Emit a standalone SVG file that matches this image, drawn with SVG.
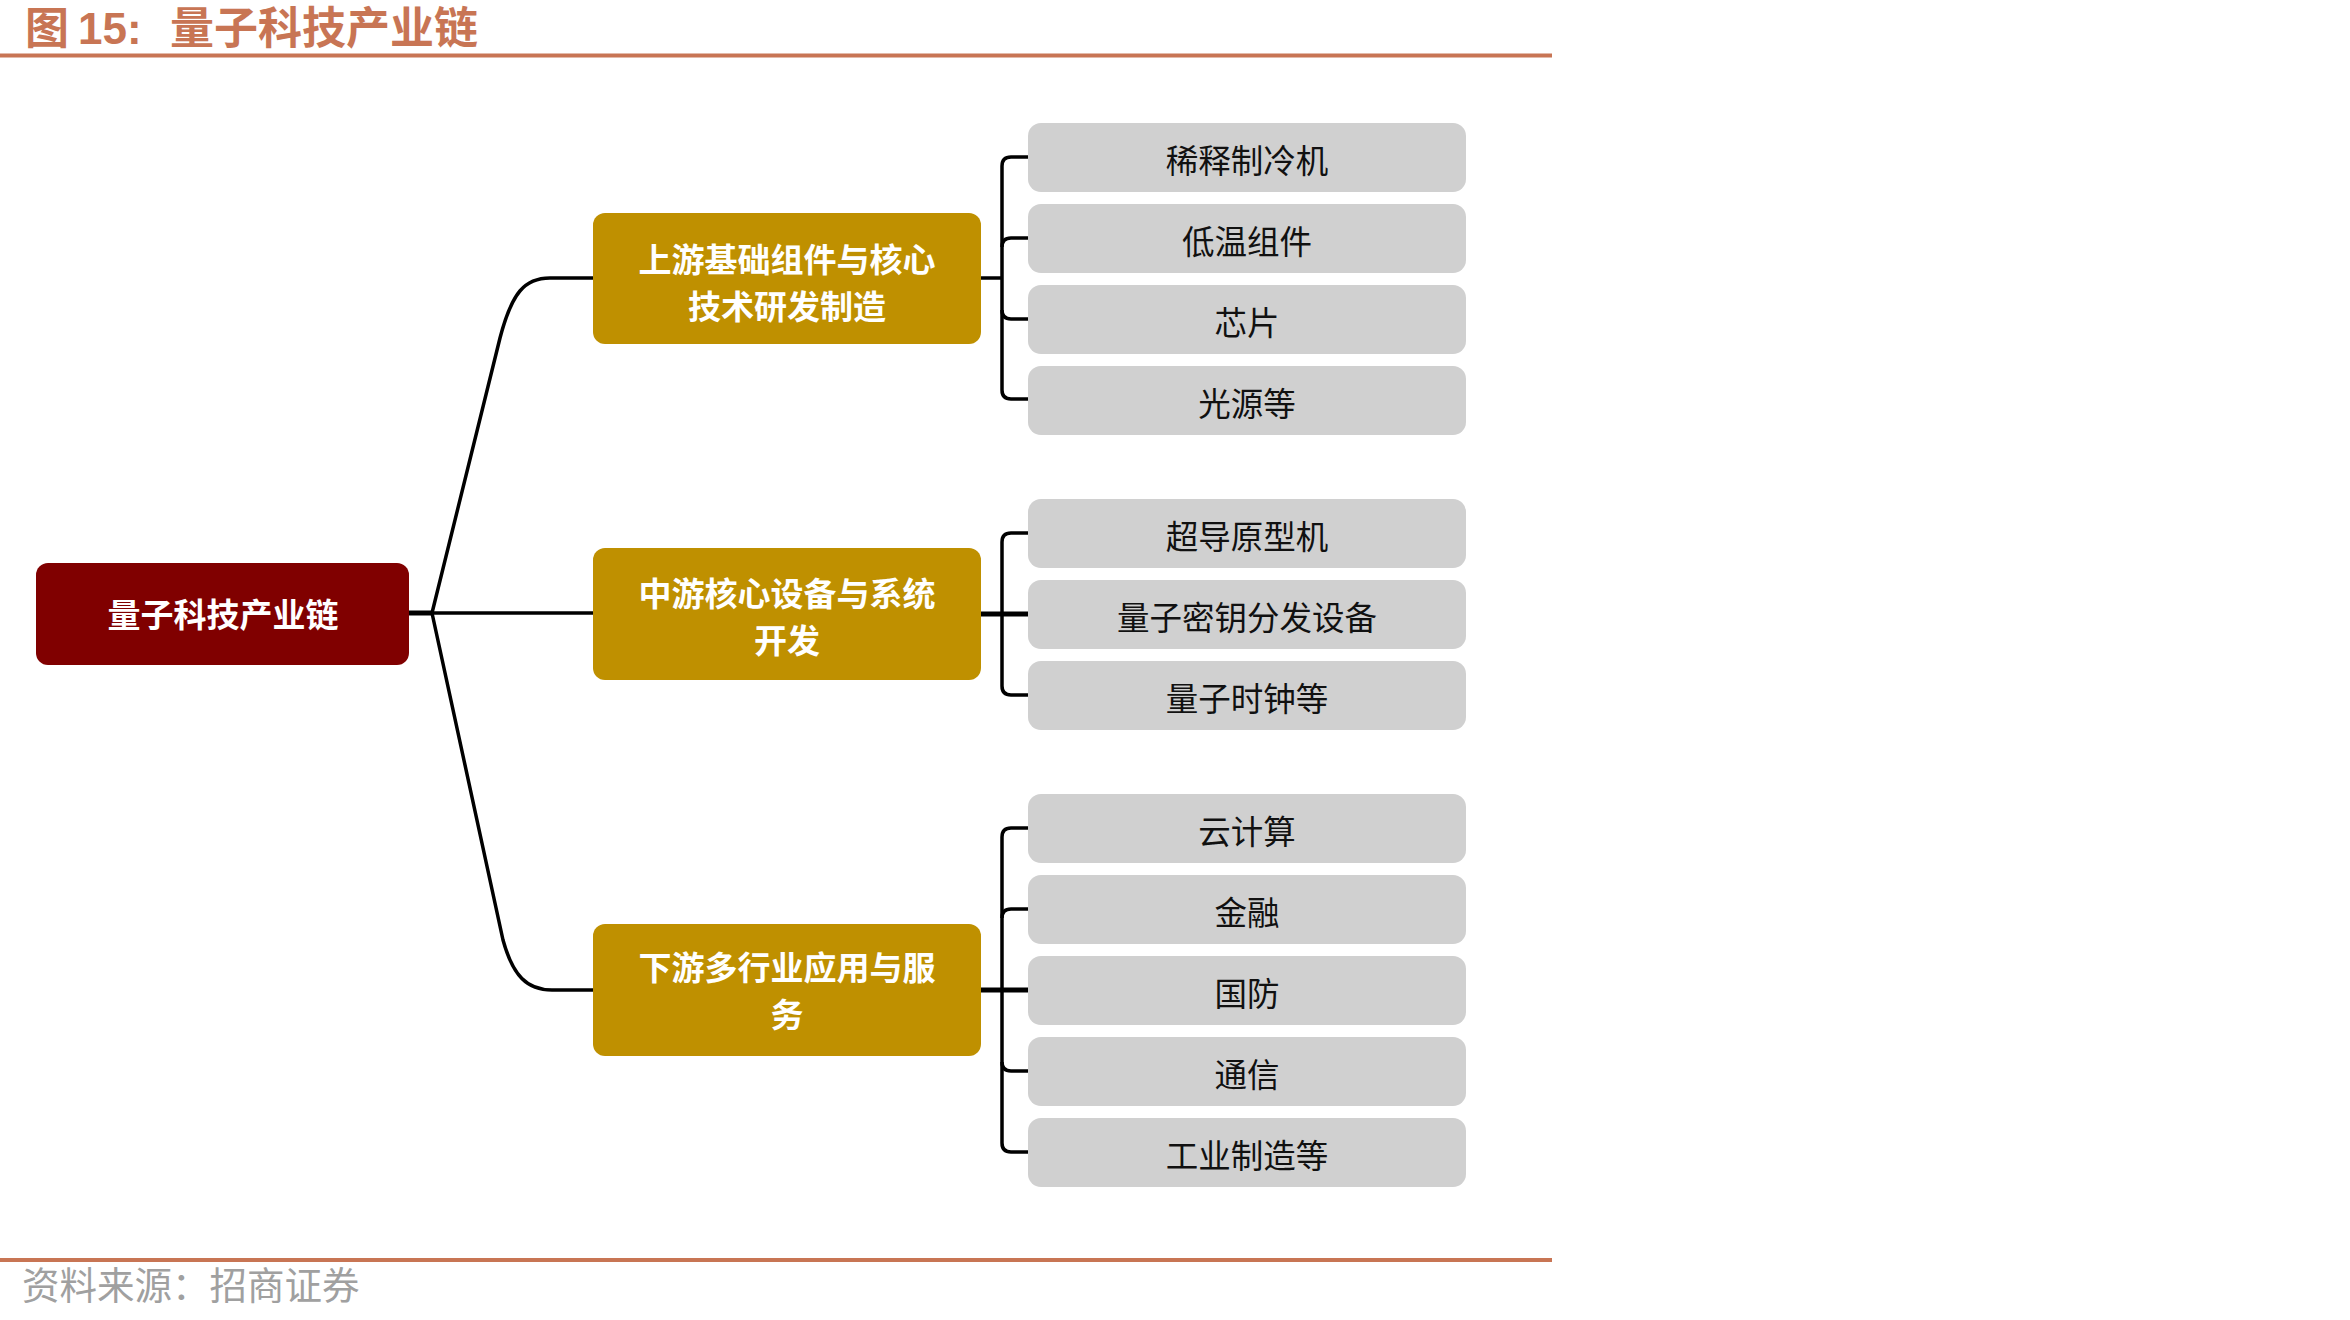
<svg xmlns="http://www.w3.org/2000/svg" width="2350" height="1320" viewBox="0 0 2350 1320">
<style>
.cjk{font-family:"Noto Sans CJK SC","Noto Sans",sans-serif;}
.title{fill:#C87554;font-weight:bold;font-size:44px;}
.rule{stroke:#C87554;stroke-width:4;}
.root{fill:#800000;}
.mid{fill:#BF9000;}
.leaf{fill:#D0D0D0;}
.wt{fill:#FFFFFF;font-weight:bold;font-size:33px;text-anchor:middle;dominant-baseline:central;}
.bt{fill:#111111;font-size:32.5px;text-anchor:middle;dominant-baseline:central;}
.con{fill:none;stroke:#000000;stroke-width:3.5;stroke-linejoin:round;}
.thick{fill:none;stroke:#000000;stroke-width:5;}
.src{fill:#A0A0A0;font-size:37.5px;}
</style>
<rect x="0" y="0" width="2350" height="1320" fill="#FFFFFF"/>
<g id="header">
<text class="cjk title" x="25" y="44" font-size="41">图</text>
<text class="title" x="78" y="44" font-family="Liberation Sans, Arial, sans-serif" font-size="45">15:</text>
<text class="cjk title" x="170" y="44">量子科技产业链</text>
<line class="rule" x1="0" y1="55.5" x2="1552" y2="55.5"/>
</g>
<g id="connectors">
<line class="thick" x1="409" y1="613" x2="432" y2="613"/>
<line class="con" x1="432" y1="613" x2="593" y2="613"/>
<path class="con" d="M432,613 L500,338 C512,292 525,278 550,278 L593,278"/>
<path class="con" d="M432,613 L503,940 C513,976 527,990 552,990 L593,990"/>
<line class="con" x1="981" y1="278" x2="1002" y2="278"/>
<path class="con" d="M1028,157 L1011,157 Q1002,157 1002,166 L1002,390 Q1002,399 1011,399 L1028,399"/>
<path class="con" d="M1028,238 L1011,238 Q1002,238 1002,247"/>
<path class="con" d="M1028,319 L1011,319 Q1002,319 1002,310"/>
<line class="thick" x1="981" y1="614" x2="1028" y2="614"/>
<path class="con" d="M1028,533 L1011,533 Q1002,533 1002,542 L1002,686 Q1002,695 1011,695 L1028,695"/>
<line class="thick" x1="981" y1="990" x2="1028" y2="990"/>
<path class="con" d="M1028,828 L1011,828 Q1002,828 1002,837 L1002,1143 Q1002,1152 1011,1152 L1028,1152"/>
<path class="con" d="M1028,909 L1011,909 Q1002,909 1002,918"/>
<path class="con" d="M1028,1071 L1011,1071 Q1002,1071 1002,1062"/>
</g>
<g id="root">
<rect class="root" x="36" y="563" width="373" height="102" rx="12"/>
<text class="cjk wt" x="223" y="613">量子科技产业链</text>
</g>
<g id="upstream">
<rect class="mid" x="593" y="213" width="388" height="131" rx="12"/>
<text class="cjk wt" x="787" y="258">上游基础组件与核心</text>
<text class="cjk wt" x="787" y="305">技术研发制造</text>
</g>
<g id="midstream">
<rect class="mid" x="593" y="548" width="388" height="132" rx="12"/>
<text class="cjk wt" x="787" y="592">中游核心设备与系统</text>
<text class="cjk wt" x="787" y="639">开发</text>
</g>
<g id="downstream">
<rect class="mid" x="593" y="924" width="388" height="132" rx="12"/>
<text class="cjk wt" x="787" y="966">下游多行业应用与服</text>
<text class="cjk wt" x="787" y="1013">务</text>
</g>
<g id="leaf-u1"><rect class="leaf" x="1028" y="123" width="438" height="69" rx="13"/><text class="cjk bt" x="1247" y="158">稀释制冷机</text></g>
<g id="leaf-u2"><rect class="leaf" x="1028" y="204" width="438" height="69" rx="13"/><text class="cjk bt" x="1247" y="239">低温组件</text></g>
<g id="leaf-u3"><rect class="leaf" x="1028" y="285" width="438" height="69" rx="13"/><text class="cjk bt" x="1247" y="320">芯片</text></g>
<g id="leaf-u4"><rect class="leaf" x="1028" y="366" width="438" height="69" rx="13"/><text class="cjk bt" x="1247" y="401">光源等</text></g>
<g id="leaf-m1"><rect class="leaf" x="1028" y="499" width="438" height="69" rx="13"/><text class="cjk bt" x="1247" y="534">超导原型机</text></g>
<g id="leaf-m2"><rect class="leaf" x="1028" y="580" width="438" height="69" rx="13"/><text class="cjk bt" x="1247" y="615">量子密钥分发设备</text></g>
<g id="leaf-m3"><rect class="leaf" x="1028" y="661" width="438" height="69" rx="13"/><text class="cjk bt" x="1247" y="696">量子时钟等</text></g>
<g id="leaf-d1"><rect class="leaf" x="1028" y="794" width="438" height="69" rx="13"/><text class="cjk bt" x="1247" y="829">云计算</text></g>
<g id="leaf-d2"><rect class="leaf" x="1028" y="875" width="438" height="69" rx="13"/><text class="cjk bt" x="1247" y="910">金融</text></g>
<g id="leaf-d3"><rect class="leaf" x="1028" y="956" width="438" height="69" rx="13"/><text class="cjk bt" x="1247" y="991">国防</text></g>
<g id="leaf-d4"><rect class="leaf" x="1028" y="1037" width="438" height="69" rx="13"/><text class="cjk bt" x="1247" y="1072">通信</text></g>
<g id="leaf-d5"><rect class="leaf" x="1028" y="1118" width="438" height="69" rx="13"/><text class="cjk bt" x="1247" y="1153">工业制造等</text></g>
<g id="footer">
<line class="rule" x1="0" y1="1260" x2="1552" y2="1260"/>
<text class="cjk src" x="22" y="1299">资料来源：招商证券</text>
</g>
</svg>
